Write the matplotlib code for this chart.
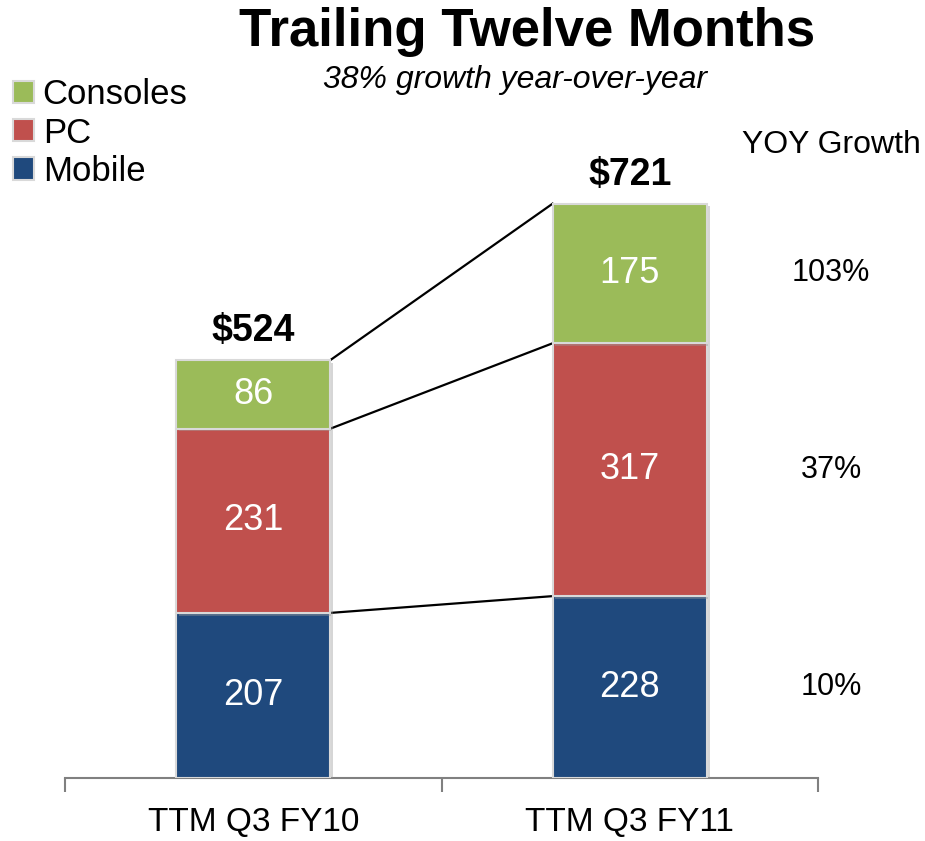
import matplotlib
matplotlib.use("Agg")
import matplotlib.pyplot as plt
import matplotlib.patheffects as pe
import numpy as np
from matplotlib.patches import Patch

categories = ["TTM Q3 FY10", "TTM Q3 FY11"]
segments = ["Mobile", "PC", "Consoles"]
mobile = [207, 228]
pc = [231, 317]
consoles = [86, 175]
totals = ["$524", "$721"]
yoy = ["10%", "37%", "103%"]

colors = {"Mobile": "#1F497D", "PC": "#C0504D", "Consoles": "#9BBB59"}

plt.rcParams["font.family"] = ["Liberation Sans", "DejaVu Sans"]

fig = plt.figure(figsize=(9.25, 8.41), dpi=100)
ax = fig.add_axes([65 / 925, 63 / 841, 753 / 925, 678 / 841])

x = np.arange(len(categories))
width = 0.41
data = {"Mobile": mobile, "PC": pc, "Consoles": consoles}
shadow = [pe.SimplePatchShadow(offset=(2, -2), shadow_rgbFace="#999999", alpha=0.4),
          pe.Normal()]

bottom = np.zeros(len(categories))
tops = []
for seg in segments:
    vals = np.array(data[seg])
    bars = ax.bar(x, vals, width, bottom=bottom, color=colors[seg],
                  edgecolor="#D9D9D9", linewidth=1.5, zorder=3)
    for b in bars:
        b.set_path_effects(shadow)
    for xi, b, v in zip(x, bottom, vals):
        ax.text(xi, b + v / 2, str(v), ha="center", va="center",
                color="white", fontsize=26, zorder=4)
    bottom = bottom + vals
    tops.append(bottom.copy())

# connector lines between the bars
for t in tops:
    ax.plot([x[0] + width / 2, x[1] - width / 2], [t[0], t[1]],
            color="black", linewidth=1.6, zorder=2)

# totals above bars
for xi, t, lab in zip(x, tops[-1], totals):
    ax.text(xi, t + 14, lab, ha="center", va="bottom",
            fontsize=27, fontweight="bold")

# YOY growth column
seg_bottom = np.zeros(len(categories))
for seg, g in zip(segments, yoy):
    vals = np.array(data[seg])
    mid = seg_bottom[1] + vals[1] / 2
    ax.text(1.535, mid, g, ha="center", va="center", fontsize=22,
            clip_on=False)
    seg_bottom = seg_bottom + vals
fig.text(831 / 925, 1 - 145 / 841, "YOY Growth", ha="center", va="center",
         fontsize=23)

ax.set_xlim(-0.5, 1.5)
ax.set_ylim(0, 850)
ax.set_yticks([])
for s in ["top", "right", "left"]:
    ax.spines[s].set_visible(False)
ax.spines["bottom"].set_color("#808080")
ax.spines["bottom"].set_linewidth(1.5)
ax.set_xticks(x)
ax.set_xticklabels(categories, fontsize=24)
ax.tick_params(axis="x", length=0, pad=21)
ax.set_xticks([-0.5, 0.5, 1.5], minor=True)
ax.tick_params(axis="x", which="minor", length=10, width=1.5, color="#808080")

fig.text(527 / 925, 1 - 32 / 841, "Trailing Twelve Months", ha="center",
         va="center", fontsize=38, fontweight="bold")
fig.text(515 / 925, 1 - 80 / 841, "38% growth year-over-year", ha="center",
         va="center", fontsize=23, style="italic")

handles = [Patch(facecolor=colors[s], edgecolor="#D9D9D9", linewidth=1.5)
           for s in reversed(segments)]
fig.legend(handles, list(reversed(segments)), loc="upper left",
           bbox_to_anchor=(-0.012, 1 - 54 / 841), frameon=False, fontsize=25,
           handlelength=0.6, handleheight=0.6, handletextpad=0.25,
           labelspacing=0.15, borderaxespad=0.3)

fig.savefig("out.png", dpi=100)
